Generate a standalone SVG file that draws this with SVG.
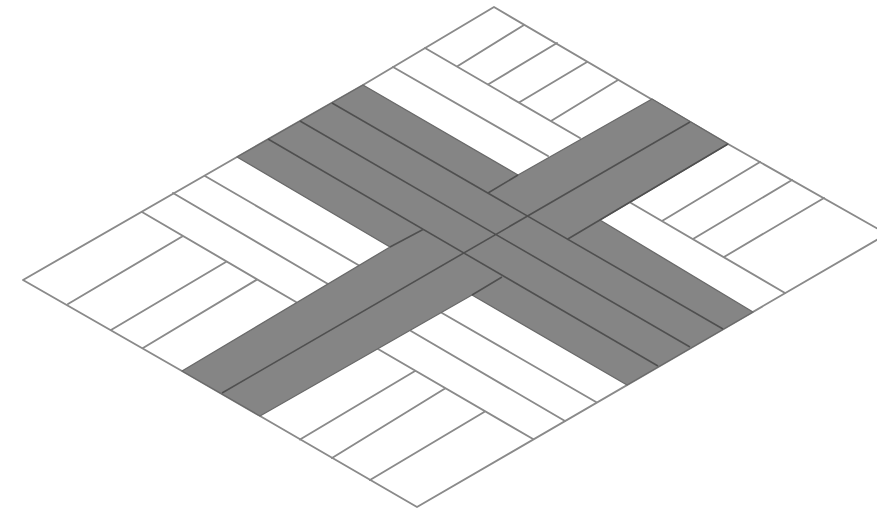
<svg xmlns="http://www.w3.org/2000/svg" width="877" height="513" viewBox="0 0 877 513">
  <style>
    .thin { fill: none; stroke: #8a8a8a; stroke-width: 1.9; stroke-linecap: round; stroke-linejoin: round; }
    .band { fill: #858585; stroke: #6a6a6a; stroke-width: 1.3; stroke-linejoin: round; }
    .inner { fill: none; stroke: #505050; stroke-width: 1.6; }
  </style>
  <defs><filter id="soft" x="-2%" y="-2%" width="104%" height="104%"><feGaussianBlur stdDeviation="0.5"/></filter></defs>
  <rect width="877" height="513" fill="#fff"/>
  <g filter="url(#soft)">
    <path class="thin" d="M494 7L728 144L887 234L417 507L260 416L182 371L23 280L237 157L363 85Z"/>
    <path class="thin" d="M425 48L580 138M393 67L548 156M524 25L457 66.500M557 43L488 84.500M587 62L519 102.500M618 80L551 121"/>
    <path class="thin" d="M631 203L785 293M760 162L662 221M792 180L693 239M824 198L724 257"/>
    <path class="thin" d="M442 313L596 402M411 331L565 421M378 349L533 439M415 371L300 439.500M445 388.500L332 458M485 411.500L370 480"/>
    <path class="thin" d="M205 176L360 266M173 193L328 284M142 212L296 302M183 236L68 304M226.700 261.500L111 330M257.300 279.400L143 348"/>
    <polygon class="band" points="363,85 518,175 652,99 728,144 600,220 753,312 627,385 472,295 260,416 182,371 390,247 237,157"/>
    <path class="inner" d="M268 139L658 366M300 121L690 347M332 103L723 329M690 122L222 393M518 175L488 193M728 144L567 239.500M390 247L423 229.500M502 277L472 295"/>
  </g>
</svg>
